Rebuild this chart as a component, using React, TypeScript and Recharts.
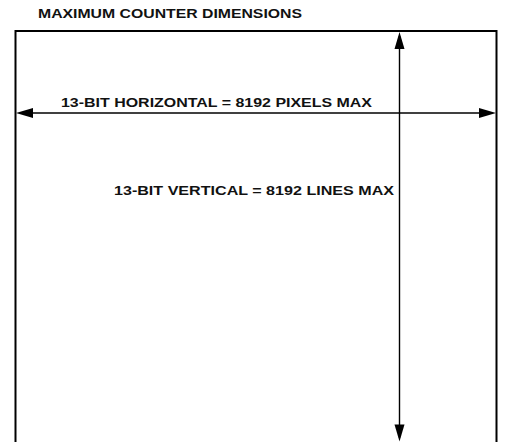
import { ComposedChart, XAxis, YAxis, Scatter } from "recharts";

// diagram space in page pixels (y grows downwards)
const xDomain = [0, 509];
const yDomain = [0, 442];

const framePoints = [
  { x: 15.5, y: 442 },
  { x: 15.5, y: 31 },
  { x: 496.5, y: 31 },
  { x: 496.5, y: 442 },
];

const hArrowShaft = [
  { x: 20, y: 113 },
  { x: 490, y: 113 },
];
const vArrowShaft = [
  { x: 399.5, y: 36 },
  { x: 399.5, y: 438 },
];

// arrow tips and the way each one points
const arrowTips = [
  { x: 16, y: 113, dir: "left" },
  { x: 496, y: 113, dir: "right" },
  { x: 399.5, y: 32, dir: "up" },
  { x: 399.5, y: 441.5, dir: "down" },
];

const labelTexts = [
  "MAXIMUM COUNTER DIMENSIONS",
  "13-BIT HORIZONTAL = 8192 PIXELS MAX",
  "13-BIT VERTICAL = 8192 LINES MAX",
];
const labelAnchors = [
  { x: 38, y: 17.5, len: 264, size: 12.5 },
  { x: 61, y: 107, len: 311, size: 13.5 },
  { x: 114, y: 195, len: 280, size: 13.5 },
];
const labels = labelTexts.map((text, i) => ({ ...labelAnchors[i], text }));

const FONT = "Arial, 'Liberation Sans', Helvetica, sans-serif";

const Nothing = () => <g />;

const ArrowHead = (props: any) => {
  const { cx, cy, payload } = props;
  const L = 17;
  const W = 5;
  let pts = "";
  if (payload.dir === "left") pts = `${cx},${cy} ${cx + L},${cy - W} ${cx + L},${cy + W}`;
  if (payload.dir === "right") pts = `${cx},${cy} ${cx - L},${cy - W} ${cx - L},${cy + W}`;
  if (payload.dir === "up") pts = `${cx},${cy} ${cx - W},${cy + L} ${cx + W},${cy + L}`;
  if (payload.dir === "down") pts = `${cx},${cy} ${cx - W},${cy - L} ${cx + W},${cy - L}`;
  return <polygon points={pts} fill="#000" />;
};

const LabelText = (props: any) => {
  const { cx, cy, payload } = props;
  return (
    <text
      x={cx}
      y={cy}
      fontFamily={FONT}
      fontWeight="bold"
      fontSize={payload.size}
      fill="#111"
      textLength={payload.len}
      lengthAdjust="spacingAndGlyphs"
    >
      {payload.text}
    </text>
  );
};

export default function App() {
  return (
    <div style={{ position: "absolute", left: 0, top: 0, background: "#fff" }}>
      <ComposedChart width={509} height={442} margin={{ top: 0, right: 0, bottom: 0, left: 0 }}>
        <XAxis type="number" dataKey="x" domain={xDomain} hide allowDataOverflow />
        <YAxis type="number" dataKey="y" domain={yDomain} reversed hide allowDataOverflow />
        <Scatter
          data={framePoints}
          line={{ stroke: "#000", strokeWidth: 2 }}
          lineType="joint"
          shape={Nothing}
          isAnimationActive={false}
        />
        <Scatter
          data={hArrowShaft}
          line={{ stroke: "#000", strokeWidth: 1.4 }}
          lineType="joint"
          shape={Nothing}
          isAnimationActive={false}
        />
        <Scatter
          data={vArrowShaft}
          line={{ stroke: "#000", strokeWidth: 1.4 }}
          lineType="joint"
          shape={Nothing}
          isAnimationActive={false}
        />
        <Scatter data={arrowTips} shape={ArrowHead} isAnimationActive={false} />
        <Scatter data={labels} shape={LabelText} isAnimationActive={false} />
      </ComposedChart>
    </div>
  );
}
